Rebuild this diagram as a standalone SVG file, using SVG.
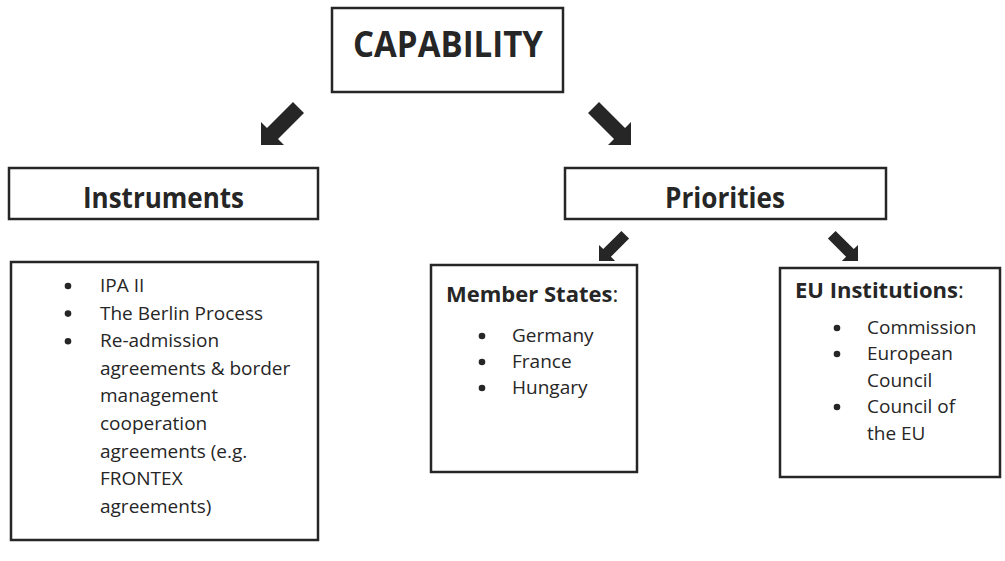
<svg xmlns="http://www.w3.org/2000/svg" width="1005" height="561" viewBox="0 0 1005 561">
<style>
.box{fill:#fff;stroke:#262626;stroke-width:2.5}
.arrow{fill:#262626}
text{font-family:"Open Sans","Liberation Sans",sans-serif;fill:#262626}
.h{font-weight:bold}
.b{font-size:19px}
</style>
<defs>
<polygon id="arr" points="0,0 0,-23 6,-17 32,-43 43,-32 17,-6 23,0"/>
</defs>
<rect width="1005" height="561" fill="#fff"/>
<g id="connectors">
<use href="#arr" class="arrow" transform="translate(261,145)"/>
<use href="#arr" class="arrow" transform="translate(631,145) scale(-1,1)"/>
<use href="#arr" class="arrow" transform="translate(599,261) scale(0.7)"/>
<use href="#arr" class="arrow" transform="translate(858,261) scale(-0.7,0.7)"/>
</g>
<g id="capability">
<rect class="box" x="332" y="8" width="231" height="84"/>
<text class="h" x="353" y="57" font-size="35" textLength="190" lengthAdjust="spacingAndGlyphs">CAPABILITY</text>
</g>
<g id="instruments">
<rect class="box" x="9" y="168" width="309" height="51"/>
<text class="h" x="83" y="208" font-size="28" textLength="161" lengthAdjust="spacingAndGlyphs">Instruments</text>
</g>
<g id="priorities">
<rect class="box" x="565" y="168" width="321" height="51"/>
<text class="h" x="665" y="208" font-size="28" textLength="120" lengthAdjust="spacingAndGlyphs">Priorities</text>
</g>
<g id="instrument-list">
<rect class="box" x="11" y="262" width="307" height="278"/>
<g class="arrow">
<circle cx="68" cy="286" r="3.3"/>
<circle cx="68" cy="313.6" r="3.3"/>
<circle cx="68" cy="341.2" r="3.3"/>
</g>
<text class="b" x="100" y="292">IPA II</text>
<text class="b" x="100" y="319.6">The Berlin Process</text>
<text class="b" x="100" y="347.2">Re-admission</text>
<text class="b" x="100" y="374.8">agreements &amp; border</text>
<text class="b" x="100" y="402.4">management</text>
<text class="b" x="100" y="430">cooperation</text>
<text class="b" x="100" y="457.6">agreements (e.g.</text>
<text class="b" x="100" y="485.2">FRONTEX</text>
<text class="b" x="100" y="512.8">agreements)</text>
</g>
<g id="member-states">
<rect class="box" x="431" y="265" width="206" height="207"/>
<text x="446" y="302" font-size="22"><tspan class="h">Member States</tspan>:</text>
<g class="arrow">
<circle cx="482" cy="336" r="3.3"/>
<circle cx="482" cy="362" r="3.3"/>
<circle cx="482" cy="388" r="3.3"/>
</g>
<text class="b" x="512" y="342">Germany</text>
<text class="b" x="512" y="368">France</text>
<text class="b" x="512" y="394">Hungary</text>
</g>
<g id="eu-institutions">
<rect class="box" x="780" y="268" width="220" height="209"/>
<text x="795" y="298" font-size="22"><tspan class="h">EU Institutions</tspan>:</text>
<g class="arrow">
<circle cx="837" cy="328" r="3.3"/>
<circle cx="837" cy="354" r="3.3"/>
<circle cx="837" cy="407" r="3.3"/>
</g>
<text class="b" x="867" y="334">Commission</text>
<text class="b" x="867" y="360">European</text>
<text class="b" x="867" y="386.5">Council</text>
<text class="b" x="867" y="413">Council of</text>
<text class="b" x="867" y="439.5">the EU</text>
</g>
</svg>
